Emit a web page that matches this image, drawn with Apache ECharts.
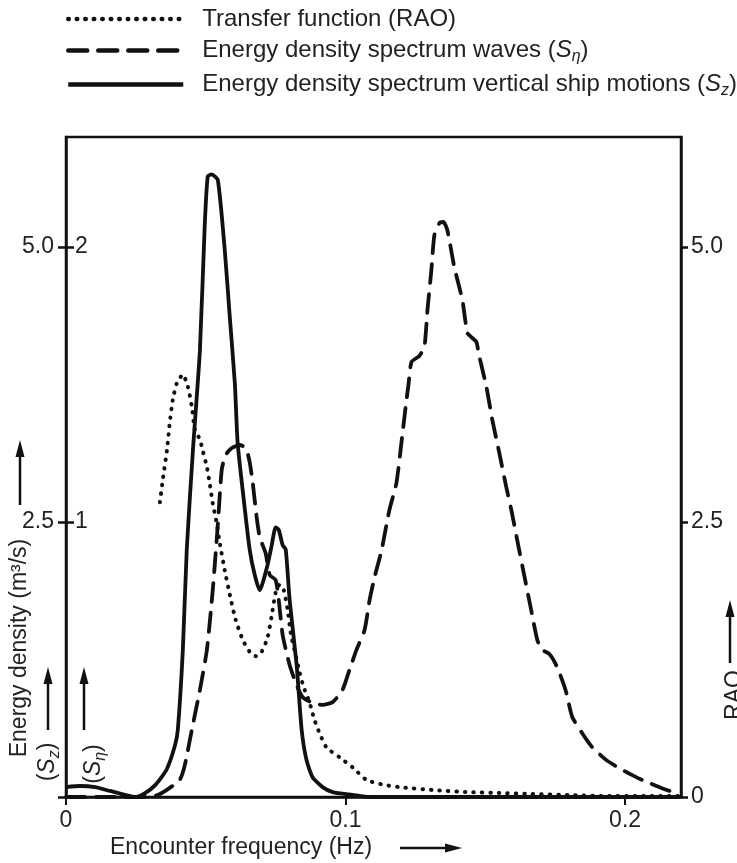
<!DOCTYPE html>
<html><head><meta charset="utf-8">
<script src="https://cdn.jsdelivr.net/npm/echarts@6/dist/echarts.min.js"></script>
<style>html,body{margin:0;padding:0;background:#fff}#c{width:737px;height:863px}</style>
</head><body><div id="c"></div>
<script>
// ---- data (frequency in Hz) ----
const szFreq = [0, 0.005, 0.0104, 0.0157, 0.021, 0.025, 0.028, 0.032, 0.036, 0.039, 0.040, 0.0418, 0.0432, 0.0454, 0.0479, 0.0496, 0.0507, 0.0521, 0.0543, 0.0568, 0.0586, 0.0604, 0.0614, 0.0636, 0.0657, 0.0675, 0.0693, 0.0721, 0.0736, 0.075, 0.0761, 0.0775, 0.0786, 0.080, 0.0825, 0.0843, 0.086, 0.0882, 0.0918, 0.0954, 0.1025, 0.1086, 0.2196];
const szVal  = [0.09, 0.10, 0.09, 0.055, 0.02, 0.0, 0.03, 0.11, 0.25, 0.47, 0.61, 1.34, 2.25, 3.15, 4.06, 5.18, 5.64, 5.66, 5.61, 4.97, 4.36, 3.76, 3.22, 2.70, 2.25, 2.02, 1.88, 2.11, 2.29, 2.45, 2.43, 2.29, 2.25, 1.79, 1.20, 0.61, 0.34, 0.18, 0.09, 0.045, 0.02, 0.0, 0.0];

const etaFreq = [0, 0.0121, 0.0229, 0.030, 0.0336, 0.0371, 0.0407, 0.0425, 0.045, 0.0479, 0.0504, 0.0525, 0.0543, 0.0557, 0.0571, 0.0593, 0.0621, 0.0643, 0.0657, 0.0668, 0.0682, 0.0693, 0.0714, 0.0729, 0.075, 0.0761, 0.0775, 0.080, 0.0825, 0.0846, 0.0882, 0.0918, 0.0954, 0.0989, 0.1014, 0.1039, 0.1068, 0.1086, 0.1104, 0.1129, 0.1157, 0.1182, 0.1204, 0.1218, 0.1225, 0.1236, 0.1264, 0.1282, 0.1293, 0.1307, 0.1318, 0.1336, 0.135, 0.1364, 0.1389, 0.1418, 0.1436, 0.1454, 0.1468, 0.1479, 0.1504, 0.1525, 0.155, 0.1575, 0.1593, 0.1614, 0.1639, 0.1664, 0.1686, 0.1704, 0.1729, 0.175, 0.1768, 0.1789, 0.1811, 0.1846, 0.1882, 0.1932, 0.1979, 0.2032, 0.2086, 0.2139, 0.2193];
const etaVal  = [0, 0, 0, 0, 0.011, 0.033, 0.062, 0.116, 0.244, 0.389, 0.535, 0.753, 0.989, 1.189, 1.244, 1.269, 1.28, 1.269, 1.218, 1.142, 1.018, 0.945, 0.887, 0.807, 0.789, 0.716, 0.589, 0.48, 0.407, 0.364, 0.342, 0.335, 0.345, 0.389, 0.462, 0.535, 0.607, 0.716, 0.80, 0.898, 1.044, 1.142, 1.324, 1.444, 1.498, 1.582, 1.604, 1.636, 1.771, 1.916, 2.044, 2.087, 2.091, 2.062, 1.927, 1.807, 1.687, 1.669, 1.655, 1.60, 1.491, 1.371, 1.251, 1.127, 1.044, 0.935, 0.807, 0.68, 0.571, 0.535, 0.52, 0.487, 0.444, 0.382, 0.291, 0.233, 0.182, 0.135, 0.105, 0.076, 0.051, 0.029, 0.011];

const raoFreq = [0.0336, 0.0346, 0.0361, 0.0371, 0.0382, 0.0396, 0.0418, 0.0436, 0.045, 0.0461, 0.0479, 0.0489, 0.0504, 0.0514, 0.0525, 0.0539, 0.055, 0.0568, 0.0586, 0.0607, 0.0632, 0.0657, 0.0679, 0.07, 0.0721, 0.0736, 0.075, 0.0764, 0.0779, 0.0793, 0.0804, 0.0825, 0.0836, 0.085, 0.0871, 0.0889, 0.0907, 0.0932, 0.0979, 0.1025, 0.1075, 0.1139, 0.1193, 0.1311, 0.1432, 0.155, 0.1668, 0.18, 0.1943, 0.2196];
const raoVal  = [2.68, 2.88, 3.15, 3.40, 3.61, 3.76, 3.84, 3.73, 3.55, 3.34, 3.25, 3.15, 3.0, 2.85, 2.67, 2.49, 2.31, 2.06, 1.84, 1.61, 1.43, 1.32, 1.28, 1.32, 1.45, 1.65, 1.86, 1.93, 1.88, 1.70, 1.49, 1.25, 1.13, 1.0, 0.86, 0.70, 0.58, 0.45, 0.36, 0.27, 0.155, 0.11, 0.09, 0.064, 0.045, 0.036, 0.027, 0.018, 0.009, 0.009];

// ---- tick labels ----
const xTicks = [0, 0.1, 0.2];
const szTicks = [2.5, 5.0];
const etaTicks = [1, 2];
const raoTicks = [0, 2.5, 5.0];

const names = ['Transfer function (RAO)', 'Energy density spectrum waves (Sη)', 'Energy density spectrum vertical ship motions (Sz)'];

const FONT = '"Liberation Sans", Arial, sans-serif';
const INK = '#111';
const TXT = '#222';
const FS = 23;
const zip = (a, b) => a.map((v, i) => [v, b[i]]);

function richSet(fs) {
  return {
    sp: { width: 14 },
    it: { fontStyle: 'italic', fontSize: fs, fontFamily: FONT, color: TXT, lineHeight: 28 },
    sub: { fontStyle: 'italic', fontSize: Math.round(fs * 0.68), fontFamily: FONT, color: TXT, padding: [13, 0, 0, 0], lineHeight: 28 },
    n: { fontSize: fs, fontFamily: FONT, color: TXT, lineHeight: 28 }
  };
}
const rich = richSet(FS);
const legendRich = richSet(24);

function vArrow(x, yTail, yHead) {
  return [
    { type: 'line', shape: { x1: x, y1: yTail, x2: x, y2: yHead + 8 }, style: { stroke: INK, lineWidth: 2.5 } },
    { type: 'polygon', shape: { points: [[x, yHead], [x - 4.5, yHead + 17], [x + 4.5, yHead + 17]] }, style: { fill: INK } }
  ];
}
function hArrow(y, xTail, xHead) {
  return [
    { type: 'line', shape: { x1: xTail, y1: y, x2: xHead - 8, y2: y }, style: { stroke: INK, lineWidth: 2.5 } },
    { type: 'polygon', shape: { points: [[xHead, y], [xHead - 17, y - 4.5], [xHead - 17, y + 4.5]] }, style: { fill: INK } }
  ];
}

const chart = echarts.init(document.getElementById('c'), null, { renderer: 'canvas' });
chart.setOption({
  backgroundColor: '#fff',
  animation: false,
  textStyle: { fontFamily: FONT },
  legend: {
    orient: 'vertical', left: 66, top: 7, padding: 0, itemWidth: 115, itemHeight: 14, itemGap: 5,
    data: names,
    itemStyle: { color: 'rgba(0,0,0,0)', borderWidth: 0, opacity: 0 },
    lineStyle: { width: 4.5 },
    formatter: function (name) {
      if (name === names[1]) return '{sp|}{n|Energy density spectrum waves (}{it|S}{sub|η}{n|)}';
      if (name === names[2]) return '{sp|}{n|Energy density spectrum vertical ship motions (}{it|S}{sub|z}{n|)}';
      return '{sp|}{n|' + name + '}';
    },
    textStyle: { fontSize: 24, color: TXT, fontFamily: FONT, rich: legendRich }
  },
  grid: { left: 66, right: 56, top: 137, bottom: 66, show: true, borderColor: INK, borderWidth: 2.5, backgroundColor: 'transparent' },
  xAxis: {
    type: 'value', min: 0, max: 0.22,
    axisLine: { lineStyle: { color: INK, width: 2.5 } },
    axisTick: { customValues: xTicks, length: 8, lineStyle: { color: INK, width: 2 } },
    axisLabel: { customValues: xTicks, formatter: v => (v === 0 ? '0' : String(v)), fontSize: FS, color: TXT, margin: 12 },
    splitLine: { show: false }
  },
  yAxis: [
    {
      type: 'value', min: 0, max: 6, position: 'left',
      axisLine: { show: true, lineStyle: { color: INK, width: 2.5 } },
      axisTick: { show: true, customValues: [0, 2.5, 5.0], length: 8, lineStyle: { color: INK, width: 2.5 } },
      axisLabel: { customValues: szTicks, formatter: v => v.toFixed(1), fontSize: FS, color: TXT, margin: 12 },
      splitLine: { show: false }
    },
    {
      type: 'value', min: 0, max: 2.4, position: 'left',
      axisLine: { show: false },
      axisTick: { show: true, inside: true, customValues: etaTicks, length: 8, lineStyle: { color: INK, width: 2.5 } },
      axisLabel: { inside: true, customValues: etaTicks, formatter: v => String(v), fontSize: FS, color: TXT, margin: 9 },
      splitLine: { show: false }
    },
    {
      type: 'value', min: 0, max: 6, position: 'right',
      axisLine: { show: true, lineStyle: { color: INK, width: 2.5 } },
      axisTick: { show: true, customValues: raoTicks, length: 7, lineStyle: { color: INK, width: 2.5 } },
      axisLabel: { customValues: raoTicks, formatter: v => (v === 0 ? '0' : v.toFixed(1)), fontSize: FS, color: TXT, margin: 10 },
      splitLine: { show: false }
    }
  ],
  series: [
    {
      name: names[0], type: 'line', yAxisIndex: 2, symbol: 'none', smooth: 0.2,
      data: zip(raoFreq, raoVal),
      lineStyle: { color: INK, width: 4, type: [0.5, 8], cap: 'round' }
    },
    {
      name: names[1], type: 'line', yAxisIndex: 1, symbol: 'none', smooth: 0.2,
      data: zip(etaFreq, etaVal),
      lineStyle: { color: INK, width: 3.8, type: [19, 11], cap: 'round' }
    },
    {
      name: names[2], type: 'line', yAxisIndex: 0, symbol: 'none', smooth: 0.2,
      data: zip(szFreq, szVal),
      lineStyle: { color: INK, width: 3.8 }
    }
  ],
  graphic: [
    { type: 'text', x: 20, y: 648, rotation: Math.PI / 2,
      style: { text: 'Energy density (m³/s)', font: FS + 'px ' + FONT, fill: TXT, align: 'center', verticalAlign: 'middle' } },
    ...vArrow(20, 505, 440),
    { type: 'text', x: 48, y: 762, rotation: Math.PI / 2,
      style: { text: '{n|(}{it|S}{sub|z}{n|)}', rich: rich, font: FS + 'px ' + FONT, fill: TXT, align: 'center', verticalAlign: 'middle' } },
    ...vArrow(48, 730, 667),
    { type: 'text', x: 94, y: 764, rotation: Math.PI / 2,
      style: { text: '{n|(}{it|S}{sub|η}{n|)}', rich: rich, font: FS + 'px ' + FONT, fill: TXT, align: 'center', verticalAlign: 'middle' } },
    ...vArrow(84, 730, 667),
    { type: 'text', x: 735, y: 695, rotation: Math.PI / 2,
      style: { text: 'RAO', font: FS + 'px ' + FONT, fill: TXT, align: 'center', verticalAlign: 'middle' } },
    ...vArrow(730, 663, 600),
    { type: 'text', x: 110, y: 848,
      style: { text: 'Encounter frequency (Hz)', font: FS + 'px ' + FONT, fill: TXT, align: 'left', verticalAlign: 'middle' } },
    ...hArrow(848, 400, 462)
  ]
});
</script>
</body></html>
